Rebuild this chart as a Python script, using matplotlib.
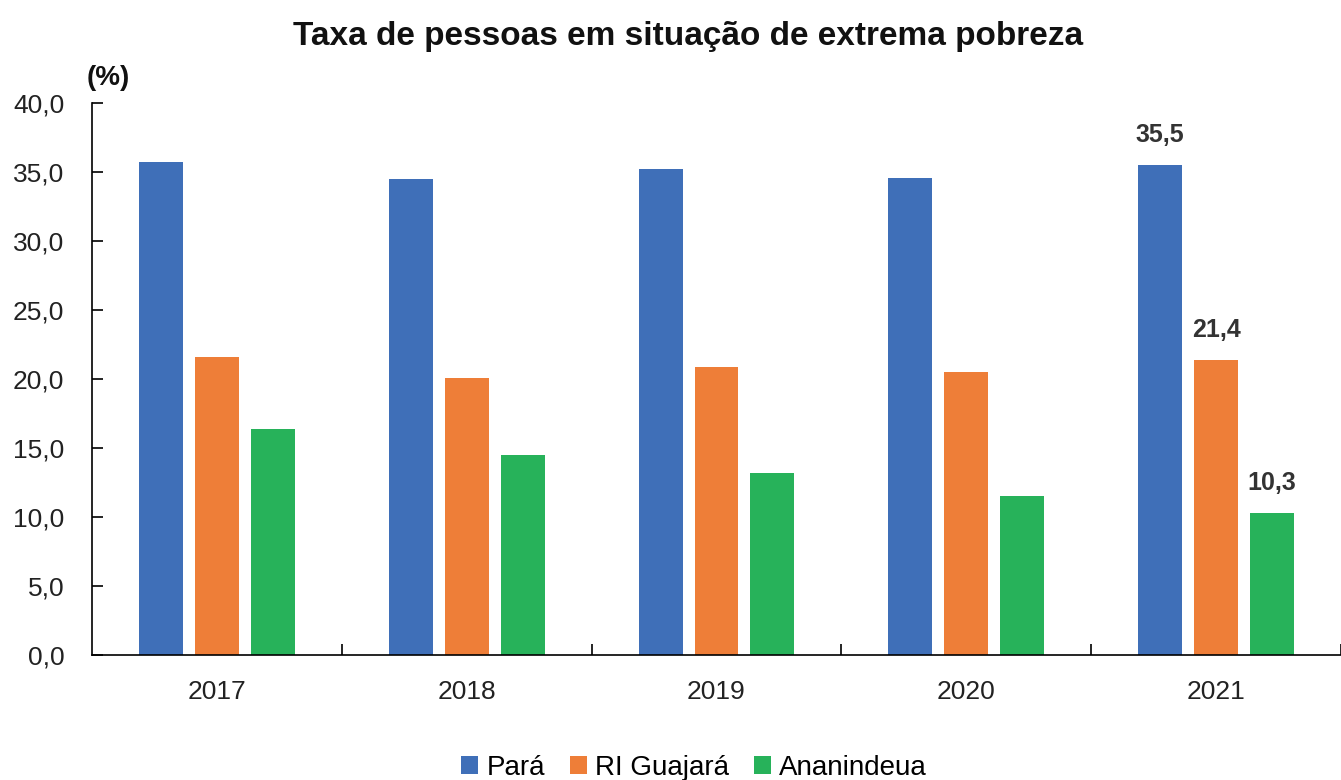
import matplotlib
matplotlib.use("Agg")
import matplotlib.pyplot as plt
import numpy as np
from matplotlib.patches import Patch

years = ["2017", "2018", "2019", "2020", "2021"]
series_names = ["Pará", "RI Guajará", "Ananindeua"]
para = [35.7, 34.5, 35.2, 34.6, 35.5]
ri_guajara = [21.6, 20.1, 20.9, 20.5, 21.4]
ananindeua = [16.4, 14.5, 13.2, 11.5, 10.3]
yticks = [0, 5, 10, 15, 20, 25, 30, 35, 40]
colors = ["#3F6FB8", "#EE7E38", "#27B25A"]

FONT = ["Liberation Sans Narrow", "Liberation Sans", "DejaVu Sans"]
plt.rcParams["font.family"] = FONT

fig = plt.figure(figsize=(13.41, 7.80), dpi=100)
ax = fig.add_axes([92/1341, 125/780, 1 - 92/1341, 552/780])

x = np.arange(len(years))
off = 0.224
w = 0.176
for i, (vals, c) in enumerate(zip([para, ri_guajara, ananindeua], colors)):
    ax.bar(x + (i - 1) * off, vals, width=w, color=c, zorder=2)

# labels for last year
last = len(years) - 1
for i, vals in enumerate([para, ri_guajara, ananindeua]):
    ax.text(x[last] + (i - 1) * off, vals[last] + 1.3, f"{vals[last]:.1f}".replace(".", ","),
            ha="center", va="bottom", fontsize=18, fontweight="bold", color="#333333")

ax.set_xlim(-0.5, len(years) - 0.5)
ax.set_ylim(0, 40)
ax.set_yticks(yticks)
ax.set_yticklabels([f"{v:.1f}".replace(".", ",") for v in yticks], fontsize=19, color="#222222")
ax.tick_params(axis="y", direction="in", length=8, width=1.2, pad=20)
ax.set_xticks(x)
ax.set_xticklabels(years, fontsize=19, color="#222222")
ax.tick_params(axis="x", length=0, pad=18)
# category separator ticks pointing up
ax.set_xticks(np.arange(0.5, len(years), 1.0), minor=True)
ax.tick_params(axis="x", which="minor", direction="in", length=8, width=1.2)

for s in ["top", "right"]:
    ax.spines[s].set_visible(False)
ax.spines["left"].set_linewidth(1.2)
ax.spines["bottom"].set_linewidth(1.2)

fig.text(688/1341, 1 - 37/780, "Taxa de pessoas em situação de extrema pobreza", ha="center", va="center",
         fontsize=24, fontweight="bold", color="#111111")
fig.text(108/1341, 1 - 78/780, "(%)", ha="center", va="center", fontsize=20, fontweight="bold", color="#111111")

handles = [Patch(facecolor=c, label=n) for c, n in zip(colors, series_names)]
fig.legend(handles=handles, loc="center", bbox_to_anchor=(694/1341, 1 - 768/780), ncol=3, frameon=False,
           fontsize=20, handlelength=0.6, handleheight=0.6, handletextpad=0.3, columnspacing=0.9,
           borderpad=0)

fig.savefig("out.png", dpi=100)
